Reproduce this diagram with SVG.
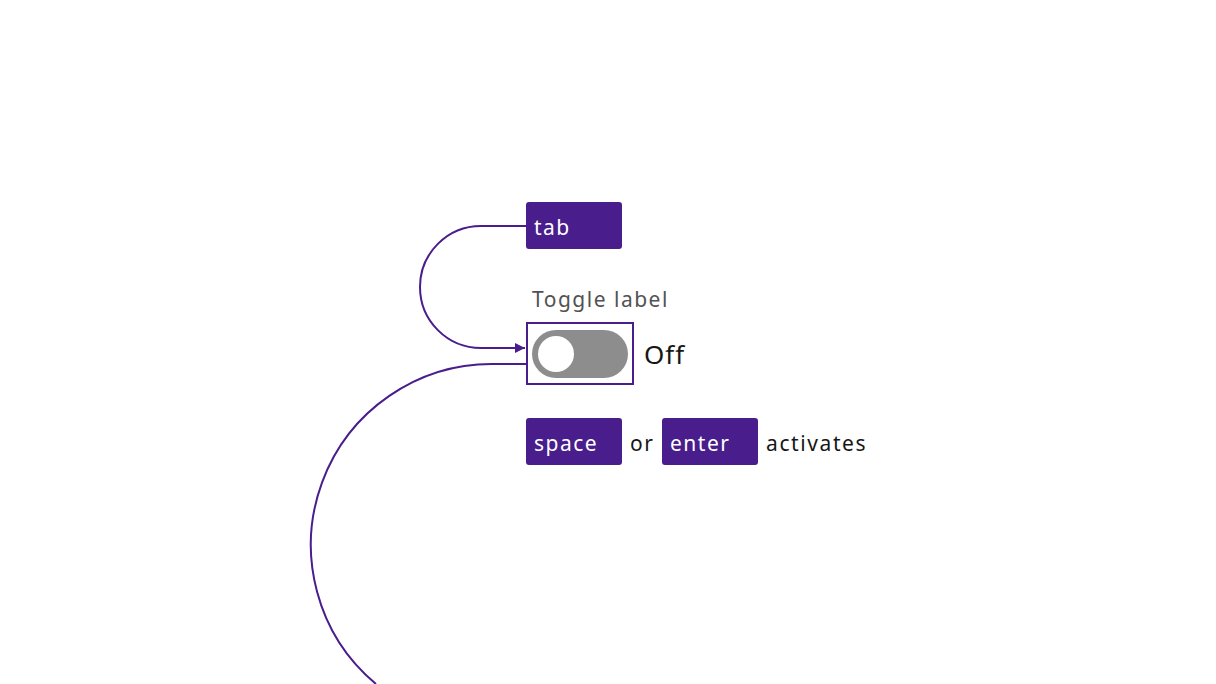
<svg xmlns="http://www.w3.org/2000/svg" width="1216" height="684" viewBox="0 0 1216 684">
<style>
.key{fill:#491d8b}
.kt{fill:#ffffff;font-family:"Noto Sans","Open Sans",sans-serif;font-size:21px;letter-spacing:1.5px}
.t{fill:#161616;font-family:"Noto Sans","Open Sans",sans-serif;font-size:21px;letter-spacing:1.6px}
.c{fill:none;stroke:#491d8b;stroke-width:2}
</style>
<defs>
<marker id="ah" viewBox="0 0 10 10" refX="10" refY="5" markerWidth="10" markerHeight="10" markerUnits="userSpaceOnUse" orient="auto">
<path d="M0,0 L10,5 L0,10 z" fill="#491d8b"/>
</marker>
</defs>
<rect width="1216" height="684" fill="#ffffff"/>
<g id="connectors">
<path class="c" d="M526,226 H481 A61,61 0 0 0 481,348 H525" marker-end="url(#ah)"/>
<path class="c" d="M526,364 H494 A181,181 0 0 0 376,684"/>
</g>
<g id="tab-key">
<rect class="key" x="526" y="202" width="96" height="47" rx="3"/>
<text class="kt" x="534" y="235">tab</text>
</g>
<g id="toggle">
<text x="532" y="307" font-family="Noto Sans, Open Sans, sans-serif" font-size="21" letter-spacing="1.5" fill="#525252">Toggle label</text>
<rect x="527" y="323" width="106" height="61" fill="none" stroke="#491d8b" stroke-width="2"/>
<rect x="532" y="330" width="96" height="48" rx="24" fill="#8d8d8d"/>
<circle cx="556" cy="354" r="18" fill="#ffffff"/>
<text class="t" x="644" y="364" style="font-size:26px;letter-spacing:1px">Off</text>
</g>
<g id="space-key">
<rect class="key" x="526" y="418" width="96" height="47" rx="3"/>
<text class="kt" x="534" y="451">space</text>
</g>
<text class="t" x="630" y="451">or</text>
<g id="enter-key">
<rect class="key" x="662" y="418" width="96" height="47" rx="3"/>
<text class="kt" x="670" y="451">enter</text>
</g>
<text class="t" x="766" y="451">activates</text>
</svg>
